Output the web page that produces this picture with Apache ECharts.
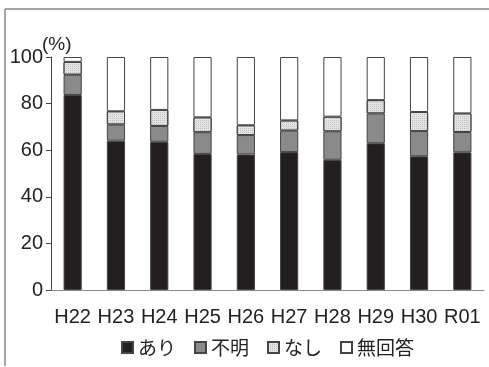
<!DOCTYPE html>
<html>
<head>
<meta charset="utf-8">
<script src="https://cdn.jsdelivr.net/npm/echarts@6/dist/echarts.min.js"></script>
<style>
html,body{margin:0;padding:0;background:#fff;}
#chart{width:489px;height:367px;}
</style>
</head>
<body>
<div id="chart"></div>
<script>
// 年度
var years = ['H22','H23','H24','H25','H26','H27','H28','H29','H30','R01'];
// 各回答の割合(%)
var ari    = [83.7, 64.1, 63.6, 58.4, 58.2, 59.2, 55.9, 63.0, 57.4, 59.1];
var fumei  = [ 8.7,  6.9,  6.8,  9.3,  8.3,  9.2, 12.2, 12.8, 10.8,  8.7];
var nashi  = [ 5.5,  5.7,  6.9,  6.4,  4.2,  4.4,  6.3,  5.7,  8.2,  8.0];
var mukaito= [ 2.1, 23.3, 22.7, 25.9, 29.3, 27.2, 25.6, 18.5, 23.6, 24.2];
var yTicks = [0, 20, 40, 60, 80, 100];

var chart = echarts.init(document.getElementById('chart'));
var font = 'Liberation Sans, Arial, "Noto Sans CJK JP", sans-serif';
var jpFont = '"Noto Sans CJK JP", sans-serif';

function bar(name, data, color, decal){
	var s = {
		name: name,
		type: 'bar',
		stack: 'all',
		barWidth: '42%',
		data: data,
		itemStyle: { color: color, borderColor: '#444', borderWidth: 1 }
	};
	if (decal) s.itemStyle.decal = decal;
	return s;
}

var option = {
	animation: false,
	textStyle: { fontFamily: font },
	title: {
		text: '(%)',
		left: 37,
		top: 30,
		textStyle: { fontSize: 19, fontWeight: 'normal', color: '#222', fontFamily: font }
	},
	grid: { left: 51, right: 5, top: 57, bottom: 77 },
	graphic: [
		{ type: 'line', shape: { x1: 5, y1: 9, x2: 489, y2: 9 }, style: { stroke: '#888', lineWidth: 1.5 } },
		{ type: 'line', shape: { x1: 5, y1: 9, x2: 5, y2: 366 }, style: { stroke: '#888', lineWidth: 1.5 } }
	],
	legend: {
		top: 333,
		left: 116,
		itemWidth: 11,
		itemHeight: 11,
		itemGap: 18,
		icon: 'rect',
		textStyle: { fontFamily: jpFont, fontSize: 19, color: '#222' },
		data: ['あり','不明','なし','無回答']
	},
	xAxis: {
		type: 'category',
		data: years,
		axisLine: { lineStyle: { color: '#888', width: 1 } },
		axisTick: { show: false },
		axisLabel: { interval: 0, hideOverlap: false, fontSize: 20, color: '#222', margin: 17 }
	},
	yAxis: {
		type: 'value',
		min: 0,
		max: 100,
		interval: 20,
		axisLine: { show: true, lineStyle: { color: '#444', width: 1 } },
		axisTick: { show: true, length: 5, lineStyle: { color: '#444' } },
		splitLine: { show: false },
		axisLabel: { fontSize: 20, color: '#222', margin: 8,
			formatter: function(v){ return yTicks.indexOf(v) >= 0 ? String(v) : ''; } }
	},
	series: [
		bar('あり', ari, '#231f20'),
		bar('不明', fumei, '#8a8a8a'),
		bar('なし', nashi, '#e4e4e4', { symbol: 'rect', symbolSize: 1, dashArrayX: [1, 1], dashArrayY: [1, 1], color: '#c0c0c0', rotation: 0 }),
		bar('無回答', mukaito, '#ffffff')
	]
};
chart.setOption(option);
</script>
</body>
</html>
